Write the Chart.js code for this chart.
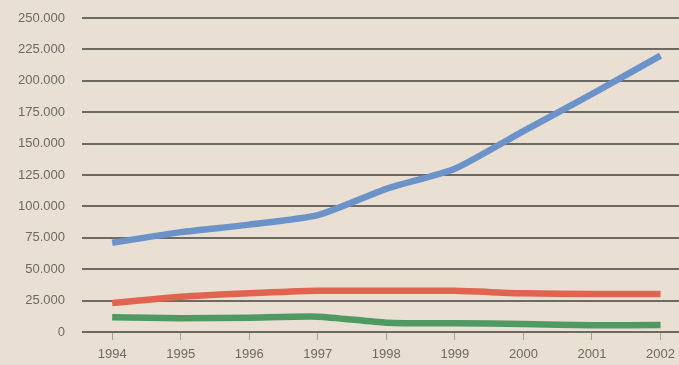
<!DOCTYPE html>
<html><head><meta charset="utf-8">
<script src="https://cdn.jsdelivr.net/npm/chart.js@4/dist/chart.umd.min.js"></script>
<style>
html,body{margin:0;padding:0;background:#e9dfd3;}
#wrap{width:679px;height:365px;position:relative;}
</style></head><body>
<div id="wrap"><canvas id="c" width="679" height="365"></canvas></div>
<script>
const years = [1994,1995,1996,1997,1998,1999,2000,2001,2002];
const blueSeries  = [71000, 79500, 85500, 93000, 114000, 130000, 160000, 189500, 220000];
const redSeries   = [23000, 28000, 30800, 32800, 32800, 32800, 30800, 30300, 30300];
const greenSeries = [11700, 10900, 11400, 12200, 7400, 6900, 6400, 5300, 5600];
const yTicks = [0,25000,50000,75000,100000,125000,150000,175000,200000,225000,250000];

const pts = arr => arr.map((v,i)=>({x:years[i], y:v}));
const fmt = v => String(v).replace(/\B(?=(\d{3})+(?!\d))/g, '.');
const lineDs = (data, color) => ({data: pts(data), borderColor: color, borderWidth: 6.5, pointRadius: 0, tension: 0.2, fill: false, borderCapStyle: 'butt', borderJoinStyle: 'round'});

new Chart(document.getElementById('c'), {
  type: 'line',
  data: { datasets: [
    lineDs(redSeries, '#e0644f'),
    lineDs(greenSeries, '#4f9a63'),
    lineDs(blueSeries, '#6c93c9')
  ]},
  options: {
    responsive: false,
    animation: false,
    layout: { padding: { top: 18, right: 0, left: 0, bottom: 0 } },
    plugins: { legend: { display: false }, tooltip: { enabled: false } },
    scales: {
      x: {
        type: 'linear',
        min: 1993.56, max: 2002.27,
        afterBuildTicks: ax => { ax.ticks = years.map(v => ({value: v})); },
        afterFit: ax => { ax.height = 33; },
        border: { display: false },
        grid: { drawOnChartArea: false, drawTicks: true, tickLength: 8, color: '#a9a198', lineWidth: 1 },
        ticks: { padding: 3, color: '#6e6963', font: { family: 'Liberation Sans', size: 13, lineHeight: 1.8 }, callback: v => String(v), maxRotation: 0, autoSkip: false }
      },
      y: {
        min: 0, max: 250000,
        afterBuildTicks: ax => { ax.ticks = yTicks.map(v => ({value: v})); },
        afterFit: ax => { ax.width = 82; },
        border: { display: false },
        grid: { color: '#6e6963', lineWidth: 2, drawTicks: true, tickLength: 17, tickColor: 'rgba(0,0,0,0)' },
        ticks: { padding: 0, color: '#6e6963', font: { family: 'Liberation Sans', size: 13 }, callback: v => fmt(v) }
      }
    }
  }
});
</script>
</body></html>
